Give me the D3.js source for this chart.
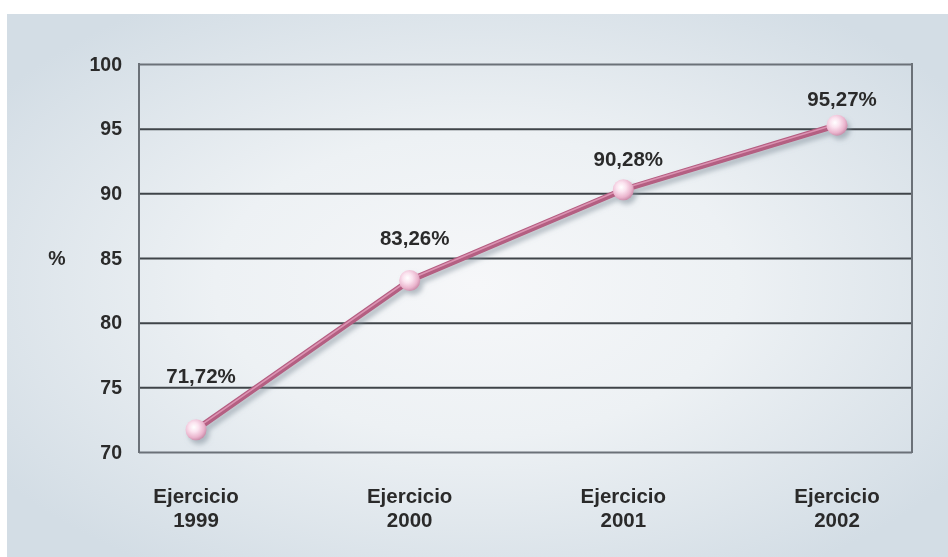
<!DOCTYPE html>
<html>
<head>
<meta charset="utf-8">
<script src="https://cdn.jsdelivr.net/npm/d3@7"></script>
<style>
  html, body { margin: 0; padding: 0; background: #ffffff; }
  svg { display: block; }
</style>
</head>
<body>
<svg id="chart" width="948" height="557"></svg>
<script>
// Ejercicios y porcentaje alcanzado en cada uno
const years = ["1999", "2000", "2001", "2002"];
const categoryLines = ["Ejercicio"];
const values = [71.72, 83.26, 90.28, 95.27];
const valueLabels = ["71,72%", "83,26%", "90,28%", "95,27%"];
const yTicks = [70, 75, 80, 85, 90, 95, 100];
const yTitle = "%";

// Vertical lift of each value label above its marker
const labelLift = [54, 43, 31, 26];

const W = 948, H = 557;
const plot = { left: 139, right: 912, top: 64, bottom: 452 };
const FONT = "'Liberation Sans', Arial, Helvetica, sans-serif";

const svg = d3.select("#chart");
const defs = svg.append("defs");

// Panel background: soft light centre fading to blue-grey edges
const bg = defs.append("radialGradient")
  .attr("id", "panelBg")
  .attr("cx", "50%").attr("cy", "50%").attr("r", "62%");
bg.append("stop").attr("offset", "0%").attr("stop-color", "#f6f7f9");
bg.append("stop").attr("offset", "45%").attr("stop-color", "#edf1f4");
bg.append("stop").attr("offset", "100%").attr("stop-color", "#d3dde5");

// Pink glossy sphere for the markers
const ball = defs.append("radialGradient")
  .attr("id", "ball")
  .attr("cx", "40%").attr("cy", "38%").attr("r", "65%");
ball.append("stop").attr("offset", "0%").attr("stop-color", "#ffffff");
ball.append("stop").attr("offset", "35%").attr("stop-color", "#fbe3ef");
ball.append("stop").attr("offset", "75%").attr("stop-color", "#eab4cd");
ball.append("stop").attr("offset", "100%").attr("stop-color", "#c98aa8");

// Soft shadow under the line and markers
const sh = defs.append("filter").attr("id", "shadow")
  .attr("x", "-20%").attr("y", "-20%").attr("width", "140%").attr("height", "140%");
sh.append("feDropShadow")
  .attr("dx", 3).attr("dy", 4).attr("stdDeviation", 2.5)
  .attr("flood-color", "#7f8d99").attr("flood-opacity", 0.55);

const soft = defs.append("filter").attr("id", "soft");
soft.append("feGaussianBlur").attr("stdDeviation", 0.4);

svg.append("rect")
  .attr("x", 7).attr("y", 14).attr("width", W - 7).attr("height", H - 14)
  .attr("fill", "url(#panelBg)");

const x = d3.scalePoint()
  .domain(years)
  .range([196, 837]);

const y = d3.scaleLinear()
  .domain([70, 100])
  .range([plot.bottom, plot.top]);

// Horizontal grid lines
const yAxis = d3.axisLeft(y)
  .tickValues(yTicks)
  .tickSize(-(plot.right - plot.left))
  .tickFormat(d => d)
  .tickPadding(17);

const gy = svg.append("g")
  .attr("transform", `translate(${plot.left},0)`)
  .call(yAxis);
gy.select(".domain").remove();
gy.selectAll(".tick line")
  .attr("stroke", d => (d === 100 || d === 70) ? "#6b7178" : "#3f4449")
  .attr("stroke-width", 2);
gy.selectAll(".tick text")
  .attr("fill", "#2b2b2b")
  .attr("font-family", FONT)
  .attr("font-weight", "bold")
  .attr("font-size", 19.5)
  .attr("filter", "url(#soft)");

// Plot frame sides
svg.append("line")
  .attr("x1", plot.left).attr("x2", plot.left)
  .attr("y1", plot.top - 1).attr("y2", plot.bottom + 1)
  .attr("stroke", "#6b7178").attr("stroke-width", 2);
svg.append("line")
  .attr("x1", plot.right).attr("x2", plot.right)
  .attr("y1", plot.top - 1).attr("y2", plot.bottom + 1)
  .attr("stroke", "#6b7178").attr("stroke-width", 2);

// Y title
svg.append("text")
  .attr("x", 57).attr("y", y(85))
  .attr("dy", "0.35em")
  .attr("text-anchor", "middle")
  .attr("fill", "#2b2b2b")
  .attr("font-family", FONT)
  .attr("font-weight", "bold")
  .attr("font-size", 19.5)
  .attr("filter", "url(#soft)")
  .text(yTitle);

// Category labels, two lines each
const xl = svg.append("g")
  .attr("font-family", FONT)
  .attr("font-weight", "bold")
  .attr("font-size", 20.5)
  .attr("fill", "#2b2b2b")
  .attr("text-anchor", "middle")
  .attr("filter", "url(#soft)");
years.forEach(yr => {
  const t = xl.append("text").attr("x", x(yr)).attr("y", 503);
  t.append("tspan").attr("x", x(yr)).text(categoryLines[0]);
  t.append("tspan").attr("x", x(yr)).attr("dy", 24).text(yr);
});

// Series line
const pts = years.map((yr, i) => [x(yr), y(values[i])]);
const line = d3.line();

const lg = svg.append("g").attr("filter", "url(#shadow)");
lg.append("path")
  .attr("d", line(pts))
  .attr("fill", "none")
  .attr("stroke", "#b45e82")
  .attr("stroke-width", 6)
  .attr("stroke-linecap", "round");
lg.append("path")
  .attr("d", line(pts))
  .attr("fill", "none")
  .attr("stroke", "#dc93b2")
  .attr("stroke-width", 1.6)
  .attr("stroke-linecap", "round")
  .attr("transform", "translate(0,-1.2)");

// Markers
lg.selectAll("circle")
  .data(pts)
  .join("circle")
  .attr("cx", d => d[0])
  .attr("cy", d => d[1])
  .attr("r", 10.5)
  .attr("fill", "url(#ball)");

// Value labels
svg.append("g")
  .attr("font-family", FONT)
  .attr("font-weight", "bold")
  .attr("font-size", 20.5)
  .attr("fill", "#2b2b2b")
  .attr("text-anchor", "middle")
  .attr("filter", "url(#soft)")
  .selectAll("text")
  .data(years)
  .join("text")
  .attr("x", yr => x(yr) + 5)
  .attr("y", (yr, i) => y(values[i]) - labelLift[i])
  .attr("dy", "0.35em")
  .text((yr, i) => valueLabels[i]);
</script>
</body>
</html>
